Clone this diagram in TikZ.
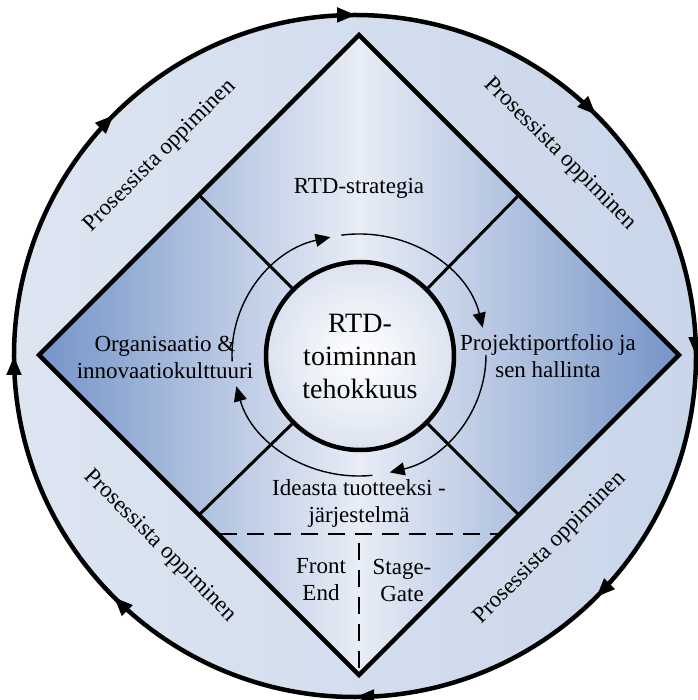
\documentclass[tikz,border=0pt]{standalone}
\usepackage{fontspec}
\setmainfont{Liberation Serif}
\usetikzlibrary{arrows.meta,decorations.markings}

\definecolor{ringlight}{HTML}{DDE5F1}
\definecolor{ringdark}{HTML}{C9D6EA}
\definecolor{diadark}{HTML}{7594C8}
\definecolor{dialight}{HTML}{E8EDF6}
\definecolor{coreedge}{HTML}{DCE3F0}

\tikzset{outertip/.tip={Triangle[length=19pt,width=14pt]}}

\begin{document}
\begin{tikzpicture}[x=1pt,y=1pt,
  txt/.style={font=\fontsize{23}{27}\selectfont, align=center, inner sep=0pt},
  heavy/.style={line width=4.5pt},
  divider/.style={line width=3pt},
  cyclearc/.style={line width=1.4pt, -{Triangle[length=15pt,width=13pt]}},
  cut/.style={line width=2.8pt, dash pattern=on 17pt off 10pt},
  core/.style={circle, draw, line width=4.5pt, minimum size=188pt, inner sep=0pt,
    inner color=white, outer color=coreedge,
    font=\fontsize{28}{33}\selectfont, align=center}
]
\useasboundingbox (-355,-344) rectangle (342,356);

% outer learning cycle
\draw[heavy, left color=ringlight, right color=ringdark,
  postaction={decorate, decoration={markings,
    mark=at position 0.0005 with {\arrow{outertip}},
    mark=at position 0.125 with {\arrow{outertip}},
    mark=at position 0.25 with {\arrow{outertip}},
    mark=at position 0.375 with {\arrow{outertip}},
    mark=at position 0.5 with {\arrow{outertip}},
    mark=at position 0.625 with {\arrow{outertip}},
    mark=at position 0.75 with {\arrow{outertip}},
    mark=at position 0.875 with {\arrow{outertip}}}}]
  (0,341) arc[start angle=90, end angle=-270, radius=341];

% diamond corners and edge midpoints
\coordinate (dT) at (4,321);
\coordinate (dR) at (324,1);
\coordinate (dB) at (4,-319);
\coordinate (dL) at (-316,1);
\coordinate (eUL) at (-156,161);
\coordinate (eUR) at (164,161);
\coordinate (eLL) at (-156,-159);
\coordinate (eLR) at (164,-159);

\draw[heavy, line join=miter, left color=diadark, right color=diadark, middle color=dialight]
  (dT) -- (dR) -- (dB) -- (dL) -- cycle;

% split of the bottom quadrant
\coordinate (cutL) at (-135,-178);
\coordinate (cutR) at (143,-178);
\coordinate (vTop) at (4,-187);
\coordinate (vBot) at (4,-315);
\draw[cut] (cutL) -- (cutR);
\draw[cut] (vTop) -- (vBot);

% inner cycle arrows
\begin{scope}[shift={(4,1)}]
  \draw[cyclearc] (183:127 and 121) arc[start angle=183, end angle=103, x radius=127, y radius=121];
  \draw[cyclearc] (98:127 and 121) arc[start angle=98, end angle=13, x radius=127, y radius=121];
  \draw[cyclearc] (0:127 and 121) arc[start angle=0, end angle=-76, x radius=127, y radius=121];
  \draw[cyclearc] (-84:127 and 121) arc[start angle=-84, end angle=-165, x radius=127, y radius=121];
\end{scope}

% centre
\node[core] (core) at (5,0) {RTD-\\toiminnan\\tehokkuus};

\draw[divider] (eUL) -- (core.135);
\draw[divider] (eUR) -- (core.45);
\draw[divider] (eLL) -- (core.-135);
\draw[divider] (eLR) -- (core.-45);

% quadrant labels
\node[txt] (strat) at (4,168) {RTD-strategia};
\node[txt] (org) at (-190,-1) {Organisaatio \&\\innovaatiokulttuuri};
\node[txt] (proj) at (193,0) {Projektiportfolio ja\\sen hallinta};
\node[txt] (idea) at (4,-147) {Ideasta tuotteeksi -\\järjestelmä};
\node[txt] (front) at (-34,-224) {Front\\End};
\node[txt] (stage) at (47,-224) {Stage-\\Gate};

% band labels
\node[txt, rotate=45] (pTL) at (-195,200) {Prosessista oppiminen};
\node[txt, rotate=-45] (pTR) at (205,202) {Prosessista oppiminen};
\node[txt, rotate=-45] (pBL) at (-195,-190) {Prosessista oppiminen};
\node[txt, rotate=45] (pBR) at (195,-192) {Prosessista oppiminen};
\end{tikzpicture}
\end{document}
